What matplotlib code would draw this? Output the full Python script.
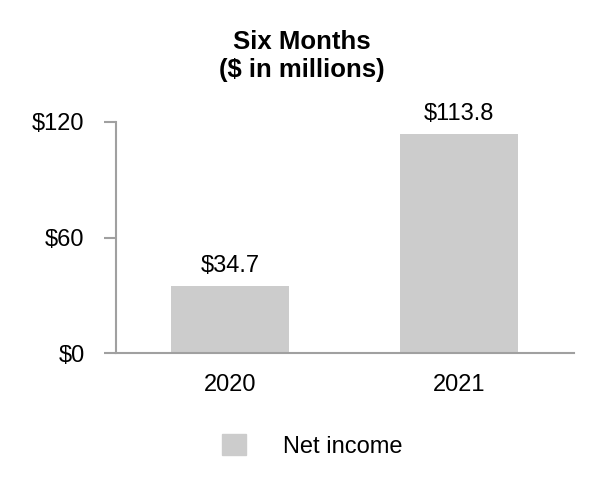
import matplotlib.pyplot as plt
from matplotlib.patches import Patch

plt.rcParams['font.family'] = ['Liberation Sans', 'DejaVu Sans']

years = ['2020', '2021']
net_income = [34.7, 113.8]
y_ticks = [0, 60, 120]
y_labels = ['$0', '$60', '$120']

bar_color = '#cccccc'
axis_color = '#a0a0a0'

fig = plt.figure(figsize=(6.04, 5.00), dpi=100)
ax = fig.add_axes([0.192, 0.294, 0.758, 0.462])

x = range(len(years))
bars = ax.bar(x, net_income, width=0.515, color=bar_color, zorder=2)
ax.bar_label(bars, labels=['$%.1f' % v for v in net_income], padding=6.5, fontsize=17)

ax.set_xlim(-0.5, 1.5)
ax.set_ylim(0, 120)
ax.set_yticks(y_ticks)
ax.set_yticklabels(y_labels, fontsize=17)
ax.set_xticks(list(x))
ax.set_xticklabels(years, fontsize=17)

# Spines
ax.spines['top'].set_visible(False)
ax.spines['right'].set_visible(False)
for s in ['left', 'bottom']:
    ax.spines[s].set_color(axis_color)
    ax.spines[s].set_linewidth(1.5)
ax.tick_params(axis='y', length=8.6, width=1.5, color=axis_color, pad=14)
ax.tick_params(axis='x', length=0, pad=15)

fig.text(0.5, 1 - 30 / 500, 'Six Months\n($ in millions)', ha='center', va='top',
         fontsize=18.5, fontweight='bold', linespacing=1.2)

fig.legend(handles=[Patch(color=bar_color, label='Net income')],
           loc='center', bbox_to_anchor=(312 / 604, 1 - 446 / 500),
           frameon=False, fontsize=17, handlelength=1.0, handleheight=1.0,
           handletextpad=1.57, borderpad=0)

fig.savefig('out.png', dpi=100)
